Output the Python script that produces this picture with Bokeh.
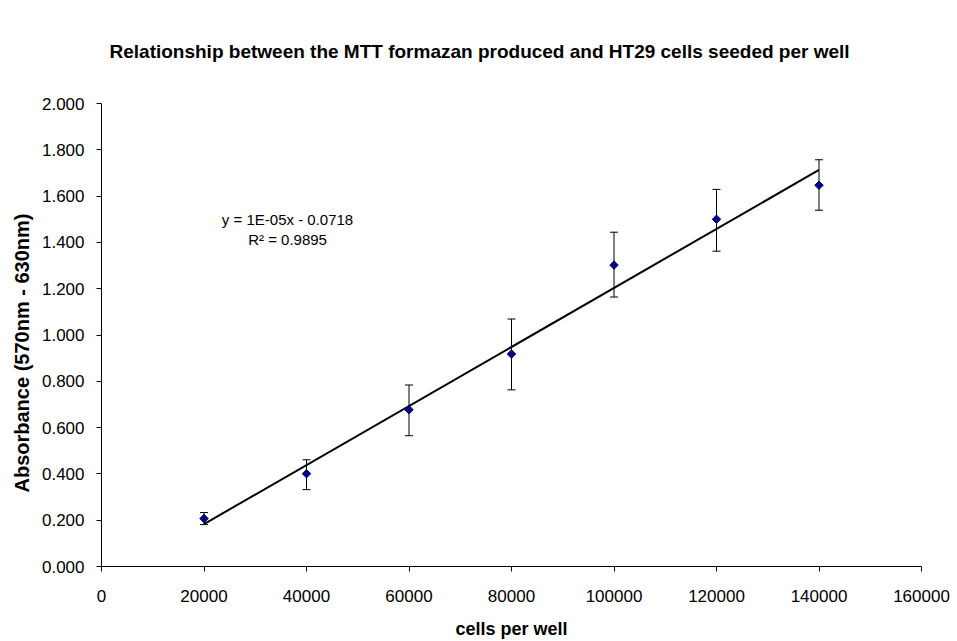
import math
from bokeh.plotting import figure
from bokeh.models import (ColumnDataSource, Whisker, TeeHead, Label, Range1d, Title,
                          NumeralTickFormatter, FixedTicker)
from bokeh.embed import file_html
from bokeh.resources import INLINE

# MTT assay standard curve: HT29 cells seeded per well vs absorbance
cells = [20000, 40000, 60000, 80000, 100000, 120000, 140000]
absorbance = [0.207, 0.401, 0.677, 0.918, 1.302, 1.500, 1.647]
err_upper = [0.233, 0.461, 0.784, 1.069, 1.444, 1.629, 1.757]
err_lower = [0.181, 0.332, 0.565, 0.763, 1.164, 1.362, 1.539]

# linear trendline
trend_slope = 1.275e-05
trend_intercept = -0.0718
r_squared = 0.9895

x_ticks = [0, 20000, 40000, 60000, 80000, 100000, 120000, 140000, 160000]
y_ticks = [0.0, 0.2, 0.4, 0.6, 0.8, 1.0, 1.2, 1.4, 1.6, 1.8, 2.0]

title_text = "Relationship between the MTT formazan produced and HT29 cells seeded per well"
x_label = "cells per well"
y_label = "Absorbance (570nm - 630nm)"

FONT = "Liberation Sans"

p = figure(width=957, height=641, output_backend="svg", toolbar_location=None,
           x_range=Range1d(0, 160000), y_range=Range1d(0, 2.0),
           min_border_left=101, min_border_right=36,
           min_border_top=103, min_border_bottom=74)

p.title.text = title_text
p.title.text_font = FONT
p.title.text_font_size = "19px"
p.title.text_font_style = "bold"
p.title.text_color = "black"
p.title.align = "left"
p.title.vertical_align = "top"
p.title.offset = 8
p.title.standoff = 79

p.outline_line_color = None
p.background_fill_color = "white"
p.border_fill_color = "white"
p.xgrid.grid_line_color = None
p.ygrid.grid_line_color = None

for ax in (p.xaxis[0], p.yaxis[0]):
    ax.axis_line_color = "black"
    ax.major_tick_line_color = "black"
    ax.major_tick_out = 5
    ax.major_tick_in = 0
    ax.minor_tick_line_color = None
    ax.major_label_text_font = FONT
    ax.major_label_text_font_size = "17px"
    ax.major_label_text_color = "black"
    ax.axis_label_text_font = FONT
    ax.axis_label_text_font_style = "bold"
    ax.axis_label_text_color = "black"

p.xaxis.ticker = FixedTicker(ticks=x_ticks)
p.yaxis.ticker = FixedTicker(ticks=y_ticks)
p.xaxis.formatter = NumeralTickFormatter(format="0")
p.yaxis.formatter = NumeralTickFormatter(format="0.000")
p.xaxis.axis_label = x_label
p.xaxis.axis_label_text_font_size = "18px"
p.xaxis.major_label_standoff = 18
p.xaxis.axis_label_standoff = 14
p.yaxis.major_label_standoff = 12

# vertical axis title, set a little below the frame's middle
p.add_layout(Title(text=y_label, align="left", offset=74, standoff=11,
                   text_font=FONT, text_font_size="20px", text_font_style="bold",
                   text_color="black"), "left")

src = ColumnDataSource(data=dict(x=cells, y=absorbance, upper=err_upper, lower=err_lower))

# trendline across the measured range
tx = [cells[0], cells[-1]]
ty = [trend_slope * v + trend_intercept for v in tx]
p.line(tx, ty, line_color="black", line_width=2)

# error bars
p.add_layout(Whisker(source=src, base="x", upper="upper", lower="lower",
                     line_color="black", line_width=1,
                     upper_head=TeeHead(size=8, line_color="black", line_width=1),
                     lower_head=TeeHead(size=8, line_color="black", line_width=1)))

p.scatter("x", "y", source=src, marker="square", angle=math.pi / 4, size=6,
          fill_color="#000080", line_color="#000080")

# trendline equation
p.add_layout(Label(x=36300, y=1.50, text="y = 1E-05x - 0.0718", text_align="center",
                   text_baseline="middle", text_font=FONT, text_font_size="15px",
                   text_color="black"))
p.add_layout(Label(x=36300, y=1.414, text="R\u00b2 = %.4f" % r_squared, text_align="center",
                   text_baseline="middle", text_font=FONT, text_font_size="15px",
                   text_color="black"))

open("out.html", "w").write(file_html(p, INLINE))
